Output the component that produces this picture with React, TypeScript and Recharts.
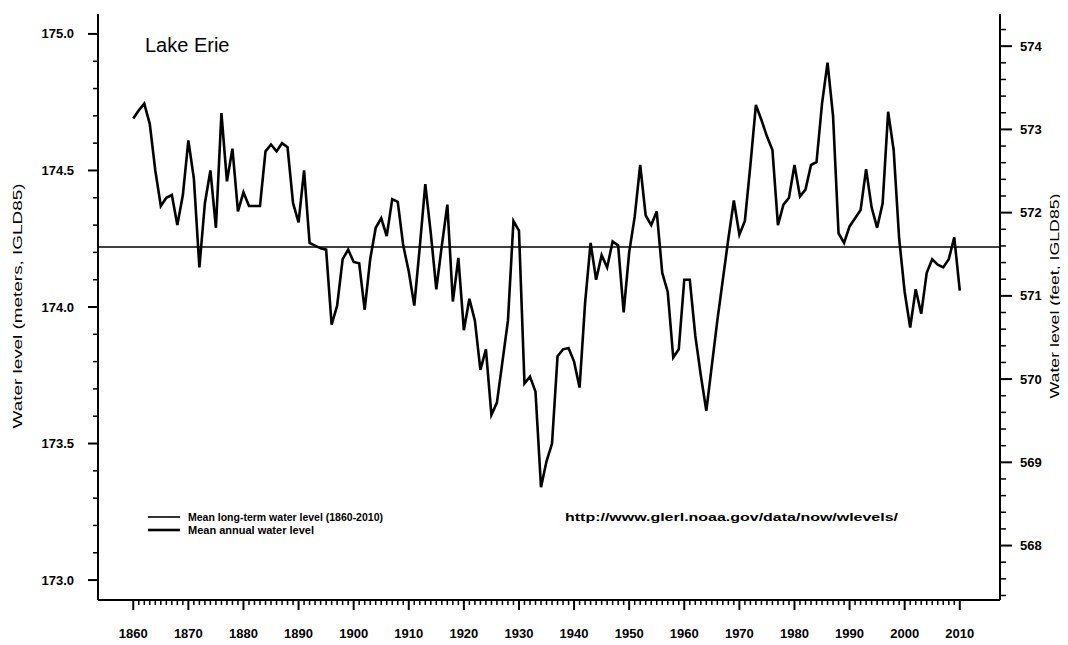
import React from 'react';
import { LineChart, Line, XAxis, YAxis, ReferenceLine } from 'recharts';

const FIRST_YEAR = 1860;

// Mean annual water level of Lake Erie (m, IGLD85), 1860-2010
const waterLevels: number[] = [
  174.69, 174.72, 174.745, 174.67, 174.5, 174.37, 174.4, 174.41, 174.3, 174.41,
  174.61, 174.47, 174.145, 174.38, 174.5, 174.29, 174.71, 174.46, 174.58, 174.35,
  174.42, 174.37, 174.37, 174.37, 174.57, 174.595, 174.57, 174.6, 174.585, 174.38,
  174.31, 174.5, 174.235, 174.225, 174.215, 174.21, 173.935, 174.005, 174.175, 174.21,
  174.165, 174.16, 173.99, 174.175, 174.29, 174.325, 174.26, 174.395, 174.385, 174.225,
  174.13, 174.005, 174.22, 174.45, 174.27, 174.065, 174.225, 174.375, 174.02, 174.18,
  173.915, 174.03, 173.95, 173.77, 173.845, 173.605, 173.65, 173.8, 173.95, 174.315,
  174.28, 173.72, 173.745, 173.69, 173.34, 173.435, 173.5, 173.82, 173.845, 173.85,
  173.8, 173.705, 174.015, 174.235, 174.1, 174.19, 174.145, 174.24, 174.225, 173.98,
  174.2, 174.33, 174.52, 174.335, 174.3, 174.35, 174.125, 174.055, 173.815, 173.845,
  174.1, 174.1, 173.895, 173.75, 173.62, 173.785, 173.95, 174.1, 174.25, 174.39,
  174.265, 174.315, 174.52, 174.74, 174.685, 174.625, 174.575, 174.3, 174.375, 174.4,
  174.52, 174.405, 174.43, 174.52, 174.53, 174.745, 174.895, 174.7, 174.27, 174.235,
  174.295, 174.325, 174.355, 174.505, 174.365, 174.29, 174.38, 174.715, 174.575, 174.25,
  174.055, 173.925, 174.065, 173.975, 174.125, 174.175, 174.155, 174.145, 174.175, 174.255,
  174.06,
];

const longTermMean = 174.22;

const leftMajorTicks = [173.0, 173.5, 174.0, 174.5, 175.0];
const leftMinorTicks = [
  173.0, 173.1, 173.2, 173.3, 173.4, 173.5, 173.6, 173.7, 173.8, 173.9,
  174.0, 174.1, 174.2, 174.3, 174.4, 174.5, 174.6, 174.7, 174.8, 174.9, 175.0,
];
const rightMajorTicks = [568, 569, 570, 571, 572, 573, 574];
const rightMinorTicks = [
  567.4, 567.6, 567.8, 568.0, 568.2, 568.4, 568.6, 568.8, 569.0, 569.2, 569.4, 569.6, 569.8,
  570.0, 570.2, 570.4, 570.6, 570.8, 571.0, 571.2, 571.4, 571.6, 571.8, 572.0, 572.2, 572.4,
  572.6, 572.8, 573.0, 573.2, 573.4, 573.6, 573.8, 574.0, 574.2,
];

const M_DOMAIN: [number, number] = [172.927, 175.073];
const FT_PER_M = 1 / 0.3048;
const FT_DOMAIN: [number, number] = [M_DOMAIN[0] * FT_PER_M, M_DOMAIN[1] * FT_PER_M];
const X_DOMAIN: [number, number] = [1853.6, 2017.3];

const years = waterLevels.map((_, i) => FIRST_YEAR + i);
const data = waterLevels.map((v, i) => ({ year: years[i], level: v }));

const FONT = '"Liberation Sans", Arial, Helvetica, sans-serif';

const near = (a: number, b: number) => Math.abs(a - b) < 1e-6;

const XTick = (props: any) => {
  const { x, y, payload } = props;
  const yr = payload.value as number;
  const major = yr % 10 === 0;
  return (
    <g>
      <line x1={x} x2={x} y1={y} y2={y + (major ? 10 : 5)} stroke="#000" strokeWidth={major ? 2 : 1.5} />
      {major && (
        <text x={x} y={y + 38} textAnchor="middle" fontFamily={FONT} fontSize={13} fontWeight="bold" fill="#000">
          {yr}
        </text>
      )}
    </g>
  );
};

const LeftTick = (props: any) => {
  const { x, y, payload } = props;
  const v = payload.value as number;
  const major = leftMajorTicks.some((m) => near(m, v));
  return (
    <g>
      <line x1={x} x2={x - (major ? 10 : 5)} y1={y} y2={y} stroke="#000" strokeWidth={major ? 2 : 1.5} />
      {major && (
        <text x={x - 24} y={y + 4.5} textAnchor="end" fontFamily={FONT} fontSize={13} fontWeight="bold" fill="#000">
          {v.toFixed(1)}
        </text>
      )}
    </g>
  );
};

const RightTick = (props: any) => {
  const { x, y, payload } = props;
  const v = payload.value as number;
  const major = rightMajorTicks.some((m) => near(m, v));
  return (
    <g>
      <line x1={x} x2={x + (major ? 12 : 6)} y1={y} y2={y} stroke="#000" strokeWidth={major ? 2 : 1.5} />
      {major && (
        <text x={x + 20} y={y + 4.5} textAnchor="start" fontFamily={FONT} fontSize={13} fontWeight="bold" fill="#000">
          {v}
        </text>
      )}
    </g>
  );
};

export default function App() {
  return (
    <div style={{ position: 'relative', width: 1060, height: 637, background: '#fff' }}>
      <LineChart
        width={1060}
        height={637}
        data={data}
        margin={{ top: 6, right: 8, bottom: 5, left: 30 }}
      >
        <XAxis
          dataKey="year"
          type="number"
          domain={X_DOMAIN}
          allowDataOverflow
          ticks={years}
          interval={0}
          tickSize={0}
          tickMargin={0}
          tick={<XTick />}
          tickLine={false}
          axisLine={{ stroke: '#000', strokeWidth: 2 }}
          height={40}
        />
        <XAxis
          xAxisId="top"
          orientation="top"
          type="number"
          domain={X_DOMAIN}
          allowDataOverflow
          tick={false}
          tickLine={false}
          axisLine={{ stroke: '#000', strokeWidth: 2 }}
          height={0}
        />
        <YAxis
          yAxisId="left"
          type="number"
          domain={M_DOMAIN}
          allowDataOverflow
          ticks={leftMinorTicks}
          interval={0}
          tickSize={0}
          tickMargin={0}
          tick={<LeftTick />}
          tickLine={false}
          axisLine={{ stroke: '#000', strokeWidth: 2 }}
          width={60}
        />
        <YAxis
          yAxisId="right"
          orientation="right"
          type="number"
          domain={FT_DOMAIN}
          allowDataOverflow
          ticks={rightMinorTicks}
          interval={0}
          tickSize={0}
          tickMargin={0}
          tick={<RightTick />}
          tickLine={false}
          axisLine={{ stroke: '#000', strokeWidth: 2 }}
          width={60}
        />
        <ReferenceLine yAxisId="left" y={longTermMean} stroke="#000" strokeWidth={1.6} />
        <Line
          yAxisId="left"
          dataKey="level"
          type="linear"
          stroke="#000"
          strokeWidth={2.6}
          dot={false}
          isAnimationActive={false}
        />
      </LineChart>
      <svg
        width={1060}
        height={637}
        style={{ position: 'absolute', left: 0, top: 0, pointerEvents: 'none' }}
      >
        <text x={137} y={44} fontFamily={FONT} fontSize={20} fill="#000">Lake Erie</text>
        <text
          transform="translate(14, 298) rotate(-90)"
          textAnchor="middle"
          fontFamily={FONT}
          fontSize={13}
          fill="#000"
          textLength={245}
          lengthAdjust="spacingAndGlyphs"
        >
          Water level (meters, IGLD85)
        </text>
        <text
          transform="translate(1051, 288) rotate(-90)"
          textAnchor="middle"
          fontFamily={FONT}
          fontSize={13}
          fill="#000"
          textLength={205}
          lengthAdjust="spacingAndGlyphs"
        >
          Water level (feet, IGLD85)
        </text>
        <line x1={140} x2={172} y1={509} y2={509} stroke="#000" strokeWidth={1.6} />
        <text x={180} y={513} fontFamily={FONT} fontSize={11} fontWeight="bold" fill="#000" textLength={195} lengthAdjust="spacingAndGlyphs">
          Mean long-term water level (1860-2010)
        </text>
        <line x1={140} x2={172} y1={522} y2={522} stroke="#000" strokeWidth={2.6} />
        <text x={180} y={526} fontFamily={FONT} fontSize={11} fontWeight="bold" fill="#000">
          Mean annual water level
        </text>
        <text x={557} y={513} fontFamily={FONT} fontSize={11} fontWeight="bold" fill="#000" textLength={333} lengthAdjust="spacingAndGlyphs">
          http://www.glerl.noaa.gov/data/now/wlevels/
        </text>
      </svg>
    </div>
  );
}
